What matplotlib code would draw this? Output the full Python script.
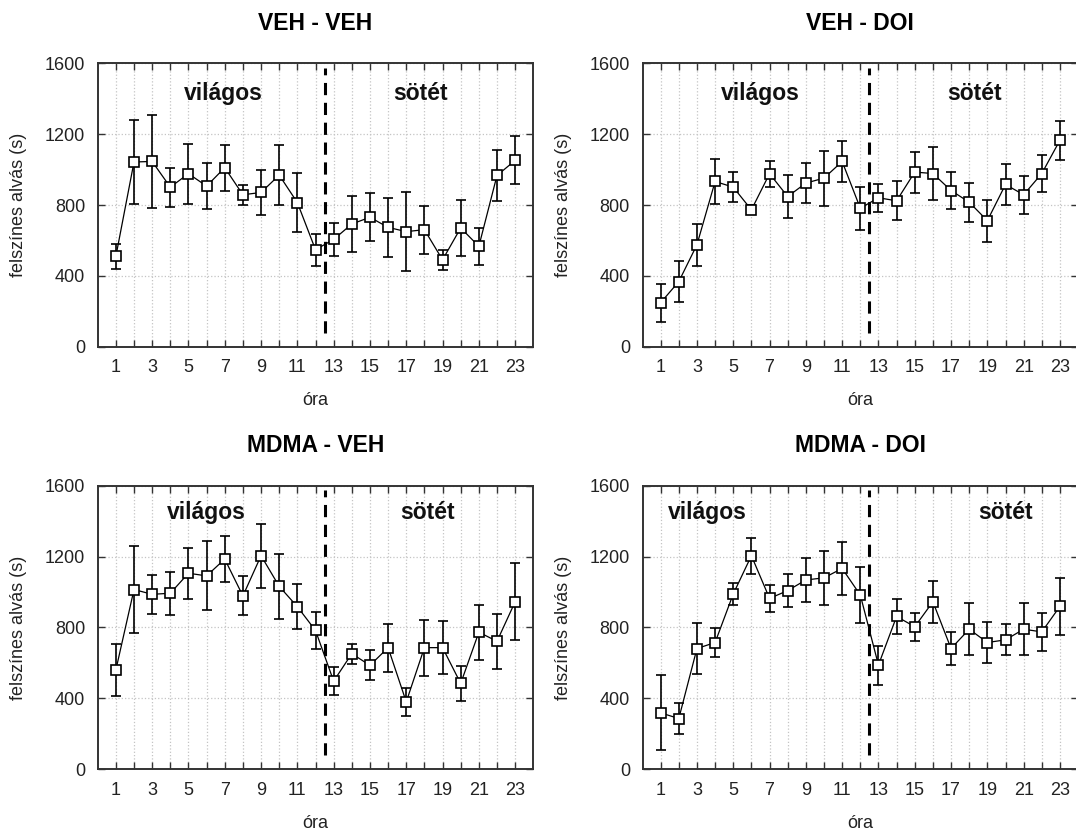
import matplotlib
matplotlib.use('Agg')
import matplotlib.pyplot as plt
import numpy as np

plt.rcParams['font.family'] = ['Liberation Sans', 'DejaVu Sans']

hours = list(range(1, 24))
titles = ['VEH - VEH', 'VEH - DOI', 'MDMA - VEH', 'MDMA - DOI']

veh_veh_mean = [510, 1043, 1046, 901, 977, 907, 1011, 858, 871, 969, 814, 548,
                606, 693, 731, 674, 650, 661, 491, 671, 567, 967, 1052]
veh_veh_err = [72, 235, 265, 110, 170, 130, 130, 55, 125, 170, 165, 90,
               95, 160, 135, 165, 225, 135, 58, 160, 103, 143, 136]

veh_doi_mean = [249, 368, 576, 933, 901, 773, 977, 848, 924, 952, 1046, 782,
                841, 824, 986, 978, 882, 816, 712, 916, 858, 978, 1166]
veh_doi_err = [107, 117, 118, 125, 85, 25, 73, 123, 112, 155, 115, 120,
               78, 110, 116, 150, 105, 110, 119, 115, 107, 102, 110]

mdma_veh_mean = [560, 1014, 987, 993, 1106, 1091, 1186, 978, 1205, 1032, 917, 783,
                 497, 652, 586, 686, 380, 686, 686, 484, 773, 722, 945]
mdma_veh_err = [148, 244, 110, 120, 143, 195, 132, 110, 180, 183, 127, 105,
                80, 57, 85, 135, 80, 158, 150, 100, 155, 155, 218]

mdma_doi_mean = [318, 286, 681, 715, 989, 1205, 964, 1008, 1068, 1080, 1133, 983,
                 588, 862, 804, 945, 681, 790, 715, 730, 790, 775, 919]
mdma_doi_err = [212, 85, 143, 80, 62, 102, 78, 93, 125, 154, 150, 158,
                110, 98, 80, 118, 93, 148, 118, 88, 148, 106, 162]

means = [veh_veh_mean, veh_doi_mean, mdma_veh_mean, mdma_doi_mean]
errs = [veh_veh_err, veh_doi_err, mdma_veh_err, mdma_doi_err]

# x positions of the "világos" / "sötét" labels in each panel
light_x = [6.9, 6.5, 6.0, 3.55]
dark_x = [17.8, 18.3, 18.2, 20.0]
label_y = [1430, 1430, 1450, 1450]

W, H = 1076, 839
fig = plt.figure(figsize=(W / 100, H / 100), dpi=100)

lefts = [97.7, 642.5, 97.7, 642.5]
tops = [63.3, 63.3, 485.7, 485.7]
aw, ah = 435.6, 283.5

for i in range(4):
    ax = fig.add_axes([lefts[i] / W, 1 - (tops[i] + ah) / H, aw / W, ah / H])
    ax.set_xlim(0, 24)
    ax.set_ylim(0, 1600)

    ax.set_xticks(hours)
    ax.set_xticklabels([str(h) if h % 2 == 1 else '' for h in hours])
    ax.set_yticks([0, 400, 800, 1200, 1600])
    ax.tick_params(direction='in', top=True, right=True, length=5, width=1,
                   labelsize=13, labelcolor='#222222', color='#333333', pad=9)
    ax.grid(True, linestyle=':', color='#c4c4c4', linewidth=0.9)
    ax.set_axisbelow(True)
    for s in ax.spines.values():
        s.set_color('#333333')
        s.set_linewidth(1.4)

    ax.plot([12.5, 12.5], [80, 1575], color='black', linewidth=2.2,
            linestyle=(0, (4, 2.5)), zorder=2)

    ax.errorbar(hours, means[i], yerr=errs[i], color='black', linewidth=0.9,
                elinewidth=1.2, capsize=3.5, capthick=1.2, marker='s',
                markersize=7, markerfacecolor='white', markeredgecolor='black',
                markeredgewidth=1.2, zorder=3)

    ax.text(light_x[i], label_y[i], 'világos', fontsize=16.5, fontweight='bold',
            ha='center', va='center', color='#111111')
    ax.text(dark_x[i], label_y[i], 'sötét', fontsize=16.5, fontweight='bold',
            ha='center', va='center', color='#111111')

    ax.set_title(titles[i], fontsize=16.5, fontweight='bold', pad=24)
    ax.set_ylabel('felszínes alvás (s)', fontsize=13, color='#222222')
    ax.yaxis.set_label_coords(-0.162, 0.5)
    ax.set_xlabel('óra', fontsize=13, color='#222222')
    ax.xaxis.set_label_coords(0.5, -0.16)

fig.savefig('out.png', dpi=100)
